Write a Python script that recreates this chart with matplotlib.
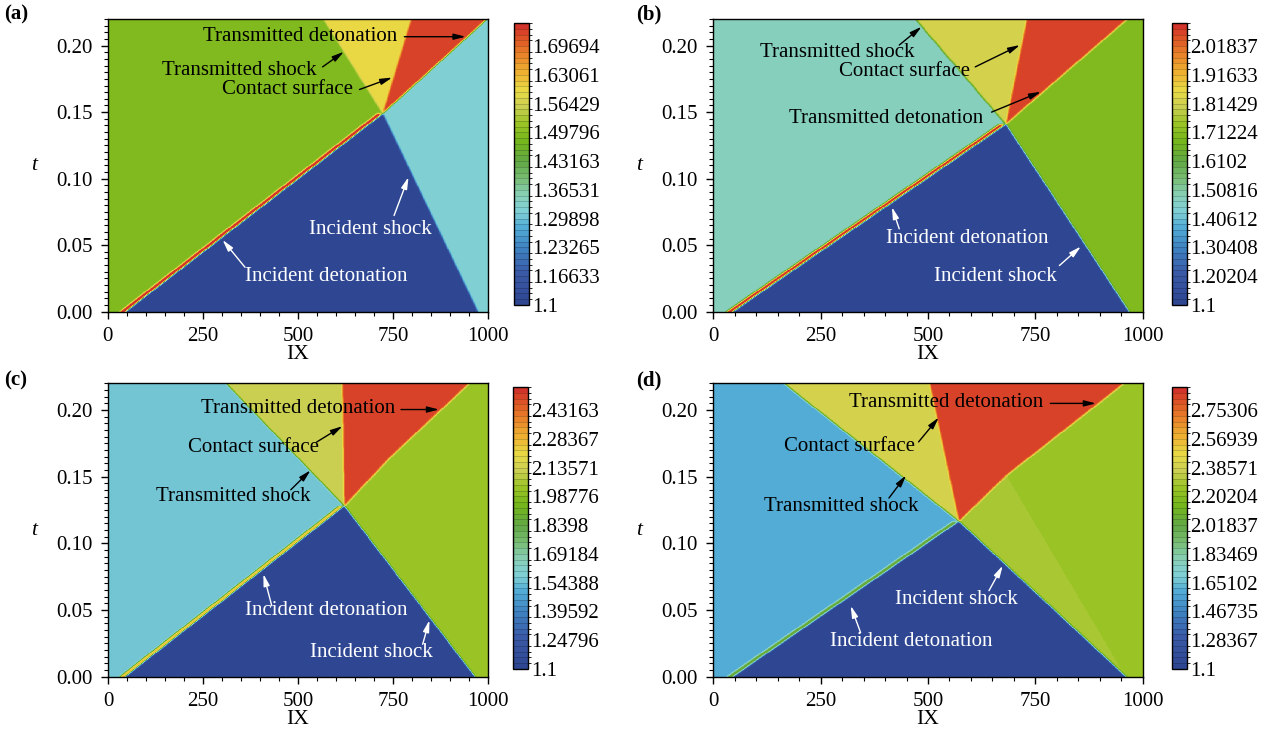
import numpy as np
import matplotlib
matplotlib.use("Agg")
import matplotlib.pyplot as plt
from matplotlib.colors import LinearSegmentedColormap, ListedColormap, BoundaryNorm
from matplotlib.ticker import MultipleLocator, FormatStrFormatter

plt.rcParams['font.family'] = ['Liberation Serif', 'DejaVu Serif']

W, H = 1276, 729
T_END = 0.22

panel_tags = ['(a)', '(b)', '(c)', '(d)']
level_min = 1.1
level_max = [1.75, 2.1, 2.55, 2.9]
n_levels = 50

# wave diagram geometry: positions in IX, times in t
det_start_x = [45, 45, 44, 46]            # incident detonation at t=0
shock_start_x = [971, 968, 966, 961]      # incident shock at t=0
meet_x = [721, 681, 622, 572]             # interaction point
meet_t = [0.149, 0.141, 0.128, 0.1164]
tshock_top_x = [565, 471, 310, 164]       # transmitted shock at t=0.22
contact_top_x = [796, 730, 617, 504]      # contact surface at t=0.22
tdet_mid_x = [858, 822, 745, 683]         # transmitted detonation, bend point
tdet_mid_t = [0.1845, 0.1805, 0.165, 0.151]
tdet_top_x = [995, 964, 952, 957]         # transmitted detonation at t=0.22
has_wedge = [False, False, True, True]

# state values in each region
v_fresh = [1.10, 1.10, 1.10, 1.10]
v_burnt = [1.49, 1.48, 1.55, 1.58]
v_shocked = [1.315, 1.70, 2.03, 2.25]
v_wedge = [1.315, 1.70, 2.035, 2.29]
v_shocked_burnt = [1.594, 1.82, 2.13, 2.40]
v_tdet = [1.73, 2.07, 2.50, 2.85]
v_spike = [1.80, 2.15, 2.32, 2.10]

# annotations: (text, text_x, text_t, tail_x, tail_t, head_x, head_t, colour)
notes = [
    [("Transmitted detonation", 506, 0.2067, 780, 0.2067, 941, 0.2067, 'k'),
     ("Transmitted shock", 346, 0.181, 565, 0.184, 621, 0.1954, 'k'),
     ("Contact surface", 473, 0.167, 662, 0.167, 748, 0.176, 'k'),
     ("Incident shock", 692, 0.0615, 753, 0.0723, 791, 0.1012, 'w'),
     ("Incident detonation", 574, 0.0264, 361, 0.0334, 302, 0.054, 'w')],
    [("Transmitted shock", 288, 0.1946, 433, 0.2004, 485, 0.2142, 'k'),
     ("Contact surface", 445, 0.1808, 610, 0.184, 714, 0.2004, 'k'),
     ("Transmitted detonation", 402, 0.1452, 648, 0.150, 763, 0.1653, 'k'),
     ("Incident detonation", 591, 0.0547, 433, 0.0623, 416, 0.0786, 'w'),
     ("Incident shock", 657, 0.0264, 806, 0.0347, 856, 0.049, 'w')],
    [("Transmitted detonation", 500, 0.2012, 771, 0.2004, 871, 0.2004, 'k'),
     ("Contact surface", 384, 0.1718, 549, 0.176, 617, 0.1879, 'k'),
     ("Transmitted shock", 330, 0.1352, 481, 0.1402, 533, 0.1548, 'k'),
     ("Incident detonation", 574, 0.0494, 431, 0.0532, 409, 0.077, 'w'),
     ("Incident shock", 692, 0.0178, 828, 0.0243, 846, 0.0424, 'w')],
    [("Transmitted detonation", 543, 0.2057, 785, 0.205, 891, 0.205, 'k'),
     ("Contact surface", 318, 0.1728, 478, 0.1761, 525, 0.1944, 'k'),
     ("Transmitted shock", 298, 0.1277, 409, 0.134, 449, 0.151, 'k'),
     ("Incident shock", 565, 0.0582, 642, 0.0645, 674, 0.0833, 'w'),
     ("Incident detonation", 461, 0.0261, 343, 0.0331, 320, 0.0532, 'w')],
]

# pixel boxes (left, top, right, bottom) for plots and colour bars
ax_boxes = [(107.7, 19, 488, 311.7), (713.3, 19, 1142.7, 311.7),
            (108, 383.4, 488, 676.7), (713.3, 383.4, 1142.7, 676.7)]
cb_boxes = [(514, 23, 529, 305), (1172, 23, 1187, 305),
            (513, 387, 528, 669), (1172, 387, 1187, 669)]
tag_pos = [(4, 14), (636, 14), (4, 380), (636, 380)]

cmap_nodes = [
    (0.00, '#2f4792'), (0.10, '#3a58a6'), (0.20, '#3f84c2'), (0.27, '#52acd6'),
    (0.33, '#80cfd4'), (0.39, '#88d0b6'), (0.45, '#78bd72'), (0.51, '#63a845'),
    (0.58, '#72b51c'), (0.65, '#9cc426'), (0.71, '#cbcf52'), (0.77, '#e9da45'),
    (0.83, '#efb432'), (0.89, '#eb8a2b'), (0.95, '#e05a26'), (1.00, '#d2332a'),
]
base_cmap = LinearSegmentedColormap.from_list('flood', cmap_nodes)


def gauss_kernel(s):
    r = int(3 * s) + 1
    g = np.exp(-0.5 * (np.arange(-r, r + 1) / s) ** 2)
    return g / g.sum()


def smooth(F, sx, st):
    kx, kt = gauss_kernel(sx), gauss_kernel(st)
    px, pt = len(kx) // 2, len(kt) // 2
    Fp = np.pad(F, ((0, 0), (px, px)), mode='edge')
    F = np.array([np.convolve(row, kx, mode='valid') for row in Fp])
    Fp = np.pad(F, ((pt, pt), (0, 0)), mode='edge')
    F = np.array([np.convolve(col, kt, mode='valid') for col in Fp.T]).T
    return F


def build_field(i, X, T):
    ti, xi = meet_t[i], meet_x[i]
    x_det = det_start_x[i] + (xi - det_start_x[i]) * T / ti
    x_sh = shock_start_x[i] + (xi - shock_start_x[i]) * T / ti
    frac = (T - ti) / (T_END - ti)
    x_ts = xi + (tshock_top_x[i] - xi) * frac
    x_cs = xi + (contact_top_x[i] - xi) * frac
    x_td = np.interp(T, [ti, tdet_mid_t[i], T_END], [xi, tdet_mid_x[i], tdet_top_x[i]])
    tk = tdet_mid_t[i]
    x_w = shock_start_x[i] + (tdet_mid_x[i] - shock_start_x[i]) * T / tk
    shocked = np.full(T.shape, v_shocked[i])
    if has_wedge[i]:
        shocked = np.where((X < x_w) & (T < tk), v_wedge[i], v_shocked[i])
    lower = np.where(X < x_det, v_burnt[i], np.where(X < x_sh, v_fresh[i], shocked))
    spike = (X < x_det) & (X > x_det - 14)
    lower = np.where(spike, v_spike[i], lower)
    upper = np.where(X < x_ts, v_burnt[i],
                     np.where(X < x_cs, v_shocked_burnt[i],
                              np.where(X < x_td, v_tdet[i], shocked)))
    return np.where(T < ti, lower, upper)


fig = plt.figure(figsize=(W / 100, H / 100), dpi=100)

NX, NT = 1000, 600
xg = np.linspace(0, 1000, NX)
tg = np.linspace(0, T_END, NT)
X, T = np.meshgrid(xg, tg)

for i in range(4):
    l, t, r, b = ax_boxes[i]
    ax = fig.add_axes([l / W, 1 - b / H, (r - l) / W, (b - t) / H])
    levels = np.linspace(level_min, level_max[i], n_levels)
    colors = base_cmap(np.linspace(0, 1, n_levels - 1))
    cmap = ListedColormap(colors)
    norm = BoundaryNorm(levels, cmap.N)

    F = build_field(i, X, T)
    F = smooth(F, 2.0, 1.8)
    F = np.clip(F, level_min, level_max[i] - 1e-6)
    im = ax.imshow(F, extent=[0, 1000, 0, T_END], origin='lower', aspect='auto',
                   cmap=cmap, norm=norm, interpolation='nearest')

    ax.set_xlim(0, 1000)
    ax.set_ylim(0, T_END)
    ax.xaxis.set_major_locator(MultipleLocator(250))
    ax.xaxis.set_minor_locator(MultipleLocator(50))
    ax.yaxis.set_major_locator(MultipleLocator(0.05))
    ax.yaxis.set_minor_locator(MultipleLocator(0.005))
    ax.yaxis.set_major_formatter(FormatStrFormatter('%.2f'))
    ax.tick_params(which='major', direction='out', length=5, width=1, labelsize=15, pad=6)
    ax.tick_params(which='minor', direction='out', length=3, width=0.8)
    for s in ax.spines.values():
        s.set_linewidth(1.0)
    ax.set_xlabel('IX', fontsize=15.5, labelpad=-1)
    ax.set_ylabel('t', fontsize=15.5, style='italic', rotation=0, labelpad=16, va='center')

    for (txt, tx, tt, ax0, at0, ax1, at1, c) in notes[i]:
        ax.text(tx, tt, txt, color=c, fontsize=15, ha='center', va='center')
        ax.annotate('', xy=(ax1, at1), xytext=(ax0, at0),
                    arrowprops=dict(arrowstyle='-|>,head_length=0.7,head_width=0.18',
                                    color=c, lw=1.0, shrinkA=0, shrinkB=0))

    cl, ct, cr, cb_ = cb_boxes[i]
    cax = fig.add_axes([cl / W, 1 - cb_ / H, (cr - cl) / W, (cb_ - ct) / H])
    cbar = fig.colorbar(im, cax=cax, ticks=levels[::5], drawedges=True)
    cbar.ax.set_yticklabels([f"{v:.6g}" for v in levels[::5]])
    cbar.ax.tick_params(length=0, labelsize=15, pad=2)
    cbar.dividers.set_color((0, 0, 0, 0.25))
    cbar.dividers.set_linewidth(0.5)
    cbar.outline.set_linewidth(1.0)

    fig.text(tag_pos[i][0] / W, 1 - tag_pos[i][1] / H, panel_tags[i],
             fontsize=15, fontweight='bold', ha='left', va='center')

fig.savefig('out.png', dpi=100)
